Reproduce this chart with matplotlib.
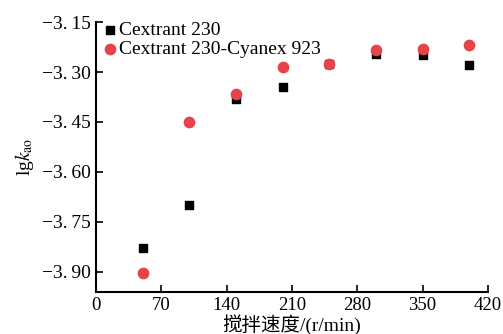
import numpy as np
import matplotlib.pyplot as plt

# data
speed = [50, 100, 150, 200, 250, 300, 350, 400]
lgk_cex = [-3.828, -3.699, -3.380, -3.344, -3.276, -3.246, -3.249, -3.279]
lgk_mix = [-3.903, -3.451, -3.366, -3.286, -3.276, -3.234, -3.231, -3.220]
xticks = [0, 70, 140, 210, 280, 350, 420]
yticks = [-3.90, -3.75, -3.60, -3.45, -3.30, -3.15]

plt.rcParams['font.family'] = ['Liberation Serif', 'Noto Sans CJK SC']
plt.rcParams['mathtext.fontset'] = 'stix'
plt.rcParams['axes.unicode_minus'] = True

fig = plt.figure(figsize=(5.03, 3.34), dpi=100)
ax = fig.add_axes([0.191, 0.126, 0.779, 0.808])

ax.scatter(speed, lgk_cex, marker='s', s=40, color='black', label='Cextrant 230', zorder=3)
ax.scatter(speed, lgk_mix, marker='o', s=55, color='#e5444a', label='Cextrant 230-Cyanex 923', zorder=4)

ax.set_xlim(0, 420)
ax.set_ylim(-3.96, -3.15)
ax.set_xticks(xticks)
ax.set_yticks(yticks)
# spaced-out labels like the original
ylabels = []
for v in yticks:
    a, b = ('%.2f' % abs(v)).split('.')
    ylabels.append('\u2212' + a + '.\u2009' + b)
ax.set_yticklabels(ylabels)
ax.tick_params(direction='in', length=5, width=1.2, labelsize=14, pad=4)
ax.tick_params(axis='x', labelsize=13.5)

for s in ['top', 'right']:
    ax.spines[s].set_visible(False)
for s in ['left', 'bottom']:
    ax.spines[s].set_linewidth(1.5)

ax.set_xlabel('搅拌速度/(r/min)', fontsize=14, labelpad=0)
ax.set_ylabel(r'lg$\mathit{k}_{\rm ao}$', fontsize=14, labelpad=4)

ax.legend(loc='upper left', bbox_to_anchor=(-0.02, 1.045), frameon=False, fontsize=14,
          handletextpad=0.0, labelspacing=0.05, borderaxespad=0.2, handlelength=1.0,
          markerscale=1.0)

fig.savefig('out.png', dpi=100)
